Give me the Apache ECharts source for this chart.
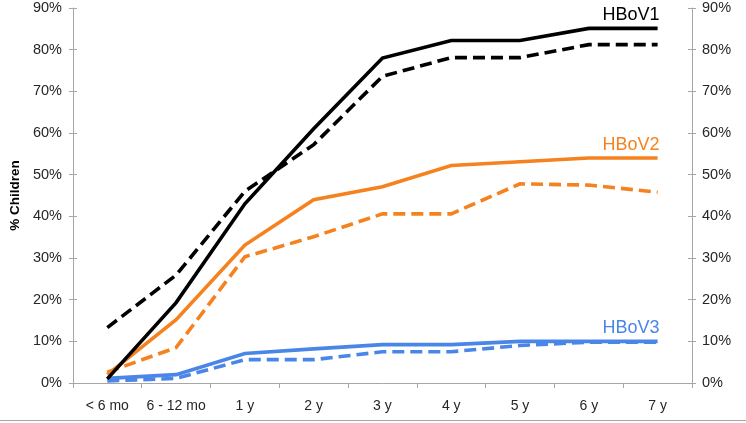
<!DOCTYPE html>
<html><head><meta charset="utf-8">
<script src="https://cdn.jsdelivr.net/npm/echarts@6/dist/echarts.min.js"></script>
<style>html,body{margin:0;padding:0;background:#fff}#c{width:746px;height:423px}</style>
</head><body><div id="c"></div>
<script>
var categories = ['< 6 mo','6 - 12 mo','1 y','2 y','3 y','4 y','5 y','6 y','7 y'];
var hbov1Solid = [1, 19.3, 43, 61, 78, 82.2, 82.2, 85.1, 85.1];
var hbov1Dashed = [13.3, 25.9, 46, 57.2, 73.6, 78.1, 78.1, 81.2, 81.2];
var hbov2Solid = [2, 15.2, 33.1, 44, 47.1, 52.2, 53.1, 54, 54];
var hbov2Dashed = [2.6, 8.5, 30.3, 35.1, 40.6, 40.6, 47.8, 47.5, 45.8];
var hbov3Solid = [1.1, 2, 7.1, 8.2, 9.2, 9.2, 10, 10, 10];
var hbov3Dashed = [0.5, 1.1, 5.6, 5.6, 7.5, 7.5, 9, 9.8, 9.8];
var seriesLabels = ['HBoV1','HBoV2','HBoV3'];

var BLACK='#000000', ORANGE='#F5821F', BLUE='#4A86E8';
var font='Liberation Sans';

function line(name, data, color, dashed, endText){
  var s = {name:name, type:'line', data:data, yAxisIndex:0, symbol:'none', silent:true,
    lineStyle:{color:color, width:3.6, type: dashed ? [12,6] : 'solid', cap:'butt', join:'miter'},
    itemStyle:{color:color}, z: dashed?2:3, animation:false};
  if(endText){
    s.endLabel = {show:true, formatter:endText, color:color, fontSize:18, fontFamily:font,
      align:'right', verticalAlign:'bottom', distance:0, offset:[2,-4]};
  }
  return s;
}
var yBase = {type:'value', min:0, max:90, interval:10};
var axisLineStyle = {show:true, lineStyle:{color:'#A6A6A6', width:1}};
var chart = echarts.init(document.getElementById('c'), null, {renderer:'canvas'});
chart.setOption({
  animation:false,
  backgroundColor:'#fff',
  grid:{left:70, right:54, top:8, bottom:40, containLabel:false},
  graphic:[{type:'line', shape:{x1:0,y1:420.5,x2:746,y2:420.5}, style:{stroke:'#A6A6A6', lineWidth:1}}],
  xAxis:{type:'category', data:categories, boundaryGap:true,
    axisLine:axisLineStyle,
    axisTick:{show:true, length:5, interval:0, lineStyle:{color:'#A6A6A6'}},
    axisLabel:{color:'#262626', fontSize:14, fontFamily:font, margin:16, interval:0},
    splitLine:{show:false}},
  yAxis:[
    Object.assign({}, yBase, {position:'left', name:'% Children', nameLocation:'middle', nameGap:43,
      nameTextStyle:{color:'#000', fontSize:13.5, fontWeight:'bold', fontFamily:font},
      axisLine:axisLineStyle, axisTick:{show:true, length:4, lineStyle:{color:'#A6A6A6'}},
      axisLabel:{color:'#262626', fontSize:14.5, fontFamily:font, margin:11, formatter:'{value}%'},
      splitLine:{show:false}}),
    Object.assign({}, yBase, {position:'right',
      axisLine:axisLineStyle, axisTick:{show:true, length:4, lineStyle:{color:'#A6A6A6'}},
      axisLabel:{color:'#262626', fontSize:14.5, fontFamily:font, margin:10, formatter:'{value}%'},
      splitLine:{show:false}}),
    Object.assign({}, yBase, {position:'left', axisLine:{show:false},
      axisTick:{show:true, inside:true, length:4, lineStyle:{color:'#A6A6A6'}},
      axisLabel:{show:false}, splitLine:{show:false}}),
    Object.assign({}, yBase, {position:'right', axisLine:{show:false},
      axisTick:{show:true, inside:true, length:4, lineStyle:{color:'#A6A6A6'}},
      axisLabel:{show:false}, splitLine:{show:false}})
  ],
  series:[
    line('HBoV3 dashed', hbov3Dashed, BLUE, true),
    line('HBoV3', hbov3Solid, BLUE, false, seriesLabels[2]),
    line('HBoV2 dashed', hbov2Dashed, ORANGE, true),
    line('HBoV2', hbov2Solid, ORANGE, false, seriesLabels[1]),
    line('HBoV1 dashed', hbov1Dashed, BLACK, true),
    line('HBoV1', hbov1Solid, BLACK, false, seriesLabels[0])
  ]
});
</script></body></html>
